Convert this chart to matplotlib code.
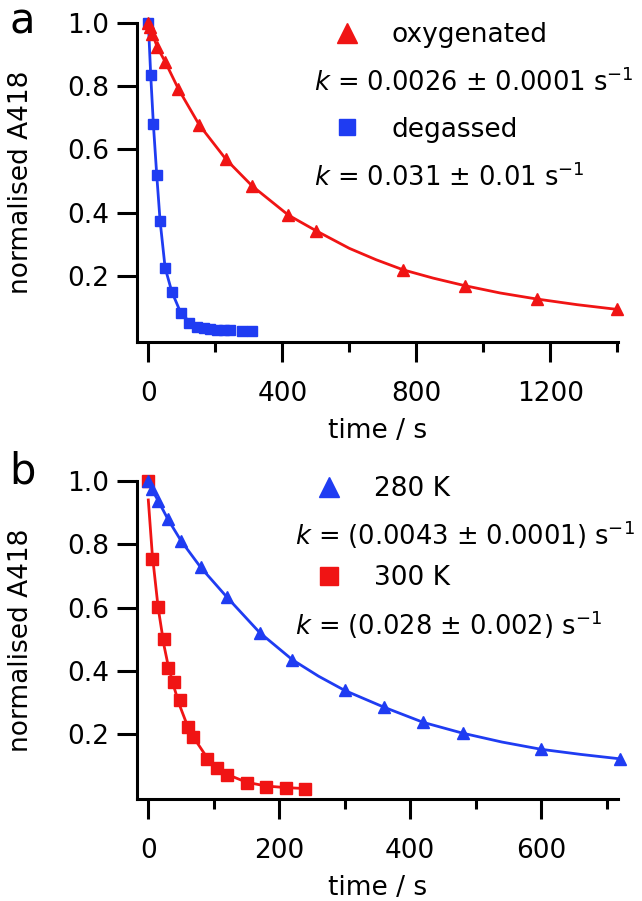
import matplotlib
matplotlib.use("Agg")
import matplotlib.pyplot as plt

plt.rcParams['font.family'] = ['DejaVu Sans']
plt.rcParams['mathtext.fontset'] = 'dejavusans'

RED = '#f01414'
BLUE = '#1f3cf2'

# panel a: oxygenated (triangles) and degassed (squares)
ox_t = [0, 6, 12, 27, 50, 90, 152, 232, 310, 418, 500, 761, 945, 1159, 1400]
ox_v = [1.0, 0.985, 0.965, 0.922, 0.877, 0.79, 0.677, 0.568, 0.484, 0.392, 0.343, 0.219, 0.169, 0.127, 0.094]
ox_fit_t = [0, 12, 27, 50, 90, 152, 232, 310, 418, 500, 600, 680, 761, 850, 945, 1050, 1159, 1280, 1400]
ox_fit_v = [1.0, 0.965, 0.922, 0.877, 0.79, 0.677, 0.568, 0.484, 0.392, 0.343, 0.287, 0.251, 0.219, 0.193, 0.169, 0.146, 0.127, 0.109, 0.094]

deg_t = [0, 7, 15, 25, 35, 50, 70, 96, 122, 145, 165, 185, 205, 225, 245, 280, 310]
deg_v = [1.0, 0.835, 0.679, 0.519, 0.374, 0.226, 0.150, 0.082, 0.050, 0.040, 0.035, 0.032, 0.030, 0.029, 0.028, 0.027, 0.027]
deg_fit_t = [0, 7, 15, 25, 35, 50, 70, 96, 122, 160, 200, 250]
deg_fit_v = [1.0, 0.835, 0.679, 0.519, 0.374, 0.226, 0.150, 0.085, 0.055, 0.038, 0.031, 0.028]

# panel b: 280 K (triangles) and 300 K (squares)
t280 = [0, 5, 15, 30, 50, 80, 120, 170, 220, 300, 360, 420, 480, 600, 720]
v280 = [1.0, 0.975, 0.938, 0.879, 0.811, 0.727, 0.633, 0.521, 0.435, 0.338, 0.285, 0.237, 0.203, 0.152, 0.122]
fit280_t = [0, 5, 15, 30, 50, 80, 120, 170, 220, 260, 300, 360, 420, 480, 540, 600, 660, 720]
fit280_v = [1.0, 0.975, 0.938, 0.879, 0.811, 0.727, 0.633, 0.521, 0.435, 0.383, 0.338, 0.285, 0.237, 0.203, 0.175, 0.152, 0.136, 0.122]

t300 = [0, 6, 15, 24, 30, 39, 48, 60, 69, 90, 105, 120, 150, 180, 210, 240]
v300 = [1.0, 0.754, 0.601, 0.500, 0.408, 0.366, 0.308, 0.224, 0.190, 0.122, 0.092, 0.071, 0.045, 0.033, 0.029, 0.026]
fit300_t = [0, 6, 15, 24, 30, 39, 48, 60, 69, 90, 105, 120, 150, 180, 210, 240]
fit300_v = [0.94, 0.77, 0.60, 0.48, 0.42, 0.35, 0.29, 0.225, 0.19, 0.125, 0.095, 0.073, 0.048, 0.036, 0.031, 0.028]

W, H = 642, 901
fig = plt.figure(figsize=(W / 100, H / 100), dpi=100)

ax_a = fig.add_axes([137.3 / W, 1 - 341.7 / H, 481 / W, 319 / H])
ax_b = fig.add_axes([137.3 / W, 1 - 799 / H, 481 / W, 318 / H])


def style(ax, xlim, major, minor):
    for s in ['top', 'right']:
        ax.spines[s].set_visible(False)
    for s in ['left', 'bottom']:
        ax.spines[s].set_linewidth(2.2)
    ax.set_xlim(*xlim)
    ax.set_xticks(major)
    ax.set_xticks(minor, minor=True)
    ax.set_yticks([0.2, 0.4, 0.6, 0.8, 1.0])
    ax.set_yticklabels(['0.2', '0.4', '0.6', '0.8', '1.0'])
    ax.tick_params(axis='both', which='major', direction='out', length=14.4,
                   width=2.2, labelsize=19)
    ax.tick_params(axis='y', pad=6)
    ax.tick_params(axis='x', pad=14)
    ax.tick_params(axis='x', which='minor', direction='out', length=7.2, width=2.2)
    ax.set_xlabel('time / s', fontsize=19)
    ax.set_ylabel('normalised A418', fontsize=19)
    ax.yaxis.set_label_coords(-0.215, 0.5)
    ax.xaxis.set_label_coords(0.5, -0.24)


# ---- panel a
ax_a.plot(ox_fit_t, ox_fit_v, color=RED, lw=2)
ax_a.plot(deg_fit_t, deg_fit_v, color=BLUE, lw=2)
ax_a.plot(deg_t, deg_v, 's', color=BLUE, ms=7.5, clip_on=False, label='degassed')
ax_a.plot(ox_t, ox_v, '^', color=RED, ms=9, clip_on=False, label='oxygenated')
ax_a.set_ylim(-0.008, 1.0)
style(ax_a, (-33, 1403), [0, 400, 800, 1200], [200, 600, 1000, 1400])

h, l = ax_a.get_legend_handles_labels()
ax_a.legend([h[1], h[0]], [l[1], l[0]], loc='upper left',
            bbox_to_anchor=(333.5 / W, 1 - 22 / H), bbox_transform=fig.transFigure,
            frameon=False, fontsize=19, handlelength=1.0, handletextpad=1.2,
            labelspacing=2.6, borderpad=0, borderaxespad=0, markerscale=1.6)

fig.text(313.5 / W, 1 - 90.7 / H, r'$k$ = 0.0026 ± 0.0001 s$^{-1}$', fontsize=18.5, va='baseline')
fig.text(313.5 / W, 1 - 186 / H, r'$k$ = 0.031 ± 0.01 s$^{-1}$', fontsize=18.5, va='baseline')

# ---- panel b
ax_b.plot(fit280_t, fit280_v, color=BLUE, lw=2)
ax_b.plot(fit300_t, fit300_v, color=RED, lw=2)
ax_b.plot(t300, v300, 's', color=RED, ms=8.5, clip_on=False, label='300 K')
ax_b.plot(t280, v280, '^', color=BLUE, ms=9, clip_on=False, label='280 K')
ax_b.set_ylim(-0.005, 1.0)
style(ax_b, (-16.8, 717.6), [0, 200, 400, 600], [100, 300, 500, 700])

h, l = ax_b.get_legend_handles_labels()
ax_b.legend([h[1], h[0]], [l[1], l[0]], loc='upper left',
            bbox_to_anchor=(315.5 / W, 1 - 476 / H), bbox_transform=fig.transFigure,
            frameon=False, fontsize=19, handlelength=1.0, handletextpad=1.2,
            labelspacing=2.4, borderpad=0, borderaxespad=0, markerscale=1.6)

fig.text(295 / W, 1 - 545 / H, r'$k$ = (0.0043 ± 0.0001) s$^{-1}$', fontsize=18.5, va='baseline')
fig.text(295 / W, 1 - 635 / H, r'$k$ = (0.028 ± 0.002) s$^{-1}$', fontsize=18.5, va='baseline')

# panel letters
fig.text(9 / W, 1 - 33 / H, 'a', fontsize=30, va='baseline')
fig.text(9 / W, 1 - 483 / H, 'b', fontsize=30, va='baseline')

fig.savefig('out.png', dpi=100)
